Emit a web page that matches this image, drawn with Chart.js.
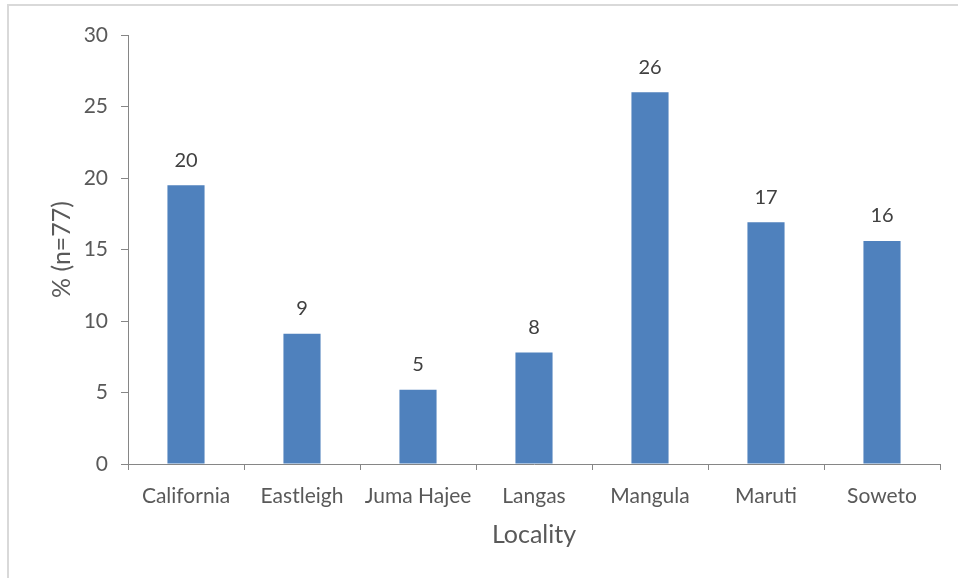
<!DOCTYPE html>
<html>
<head>
<meta charset="utf-8">
<script src="https://cdn.jsdelivr.net/npm/chart.js@4.4.0/dist/chart.umd.min.js"></script>
<style>
  html, body { margin: 0; padding: 0; background: #fff; }
  #wrap { position: relative; width: 958px; height: 578px; overflow: hidden; }
  #frame { position: absolute; left: 7px; top: 4px; width: 1000px; height: 1000px;
           border-left: 2px solid #d9d9d9; border-top: 2px solid #d9d9d9; }
  canvas { position: absolute; left: 0; top: 0; }
</style>
</head>
<body>
<div id="wrap">
  <div id="frame"></div>
  <canvas id="localityChart" width="958" height="578"></canvas>
</div>
<script>
const localities = ["California", "Eastleigh", "Juma Hajee", "Langas", "Mangula", "Maruti", "Soweto"];
const percentages = [19.5, 9.1, 5.2, 7.8, 26.0, 16.9, 15.6];
const yTicks = [0, 5, 10, 15, 20, 25, 30];

const textColor = "#595959";
const axisColor = "#868686";
const fontFamily = "Lato, 'Open Sans', sans-serif";

// draws the rounded value above each bar
const barLabels = {
  id: "barLabels",
  afterDatasetsDraw(chart) {
    const ctx = chart.ctx;
    const meta = chart.getDatasetMeta(0);
    ctx.save();
    ctx.fillStyle = "#404040";
    ctx.font = "20px " + fontFamily;
    ctx.textAlign = "center";
    ctx.textBaseline = "middle";
    meta.data.forEach((bar, i) => {
      ctx.fillText(String(Math.round(percentages[i])), bar.x, bar.y - 25);
    });
    ctx.restore();
  },
};

const ctx = document.getElementById("localityChart").getContext("2d");

new Chart(ctx, {
  type: "bar",
  data: {
    labels: localities,
    datasets: [
      {
        data: percentages,
        backgroundColor: "#4f81bd",
        borderWidth: 0,
        categoryPercentage: 1,
        barPercentage: 0.32,
      },
    ],
  },
  options: {
    responsive: false,
    devicePixelRatio: 1,
    animation: false,
    layout: { padding: { left: 10, right: 18, top: 35, bottom: 0 } },
    plugins: {
      legend: { display: false },
      tooltip: { enabled: false },
    },
    scales: {
      x: {
        offset: true,
        grid: { drawOnChartArea: false, drawTicks: true, tickLength: 6, color: axisColor, offset: true },
        border: { color: axisColor, width: 1 },
        ticks: { color: textColor, font: { family: fontFamily, size: 21 }, padding: 14, maxRotation: 0 },
        title: {
          display: true,
          text: "Locality",
          color: textColor,
          font: { family: fontFamily, size: 25 },
          padding: { top: 0, bottom: 28 },
        },
        afterFit: (scale) => { scale.height = 114; },
      },
      y: {
        min: 0,
        max: 30,
        afterBuildTicks: (scale) => { scale.ticks = yTicks.map((v) => ({ value: v })); },
        grid: { drawOnChartArea: false, drawTicks: true, tickLength: 7, color: axisColor },
        border: { color: axisColor, width: 1 },
        ticks: { color: textColor, font: { family: fontFamily, size: 21 }, padding: 13 },
        title: {
          display: true,
          text: "% (n=77)",
          color: textColor,
          font: { family: fontFamily, size: 25 },
          padding: { top: 37, bottom: 0 },
        },
        afterFit: (scale) => { scale.width = 118; },
      },
    },
  },
  plugins: [barLabels],
});
</script>
</body>
</html>
